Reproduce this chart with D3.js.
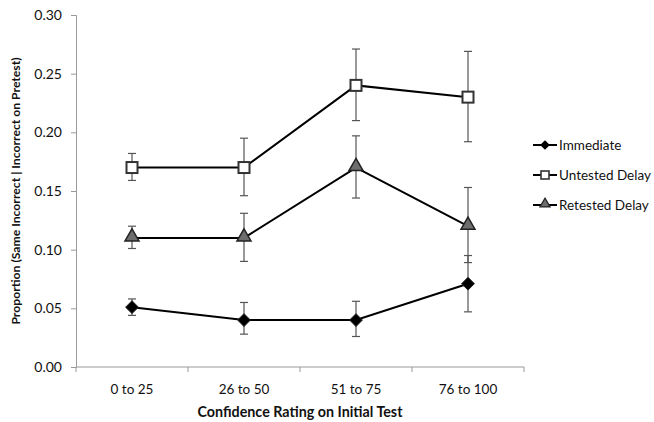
<!DOCTYPE html>
<html><head><meta charset="utf-8">
<script src="https://cdn.jsdelivr.net/npm/d3@7"></script>
<style>body{margin:0;background:#fff}svg{display:block}text{font-family:Lato,"Open Sans",sans-serif}</style>
</head><body><svg id="c" width="654" height="422"></svg>
<script>
const categories = ["0 to 25","26 to 50","51 to 75","76 to 100"];
const seriesNames = ["Immediate","Untested Delay","Retested Delay"];
const immediate = [0.051, 0.040, 0.040, 0.071];
const immediateLo = [0.044, 0.028, 0.026, 0.047];
const immediateHi = [0.058, 0.055, 0.056, 0.095];
const untested = [0.170, 0.170, 0.240, 0.230];
const untestedLo = [0.159, 0.146, 0.210, 0.192];
const untestedHi = [0.182, 0.195, 0.271, 0.269];
const retested = [0.110, 0.110, 0.170, 0.120];
const retestedLo = [0.101, 0.090, 0.144, 0.089];
const retestedHi = [0.120, 0.131, 0.197, 0.153];
const yTicks = [0,0.05,0.10,0.15,0.20,0.25,0.30];

const svg = d3.select("#c");
const x = d3.scaleBand().domain(categories).range([76,524]);
const y = d3.scaleLinear().domain([0,0.30]).range([367,15]);
const axisCol = "#9a9a9a";

// y axis
const ya = svg.append("g").attr("transform","translate(76,0)")
  .call(d3.axisLeft(y).tickValues(yTicks).tickFormat(d3.format(".2f")).tickSize(5).tickPadding(9));
ya.select(".domain").attr("stroke",axisCol);
ya.selectAll(".tick line").attr("stroke",axisCol);
ya.selectAll("text").attr("font-size",14).attr("fill","#111");
// x axis
const xa = svg.append("g").attr("transform","translate(0,367)")
  .call(d3.axisBottom(x).tickSize(0).tickPadding(17));
xa.select(".domain").attr("stroke",axisCol).attr("d","M76,0H524");
xa.selectAll("text").attr("font-size",13.5).attr("fill","#111");
const bounds = categories.map((c,i)=>x(c)).concat([x.range()[1]]);
svg.append("g").selectAll("line").data(bounds).join("line")
  .attr("x1",d=>d).attr("x2",d=>d).attr("y1",367).attr("y2",372).attr("stroke",axisCol);

svg.append("text").attr("x",300).attr("y",417).attr("text-anchor","middle")
  .attr("font-size",14.3).attr("font-weight","bold").attr("fill","#111").text("Confidence Rating on Initial Test");
svg.append("text").attr("transform","translate(20,191) rotate(-90)").attr("text-anchor","middle")
  .attr("font-size",12.2).attr("font-weight","bold").attr("fill","#111")
  .text("Proportion (Same Incorrect | Incorrect on Pretest)");

const cx = c => x(c) + x.bandwidth()/2;
const series = [
  {name:seriesNames[0], v:immediate, lo:immediateLo, hi:immediateHi, shape:"diamond"},
  {name:seriesNames[1], v:untested, lo:untestedLo, hi:untestedHi, shape:"square"},
  {name:seriesNames[2], v:retested, lo:retestedLo, hi:retestedHi, shape:"triangle"}
];
const line = d3.line().x((d,i)=>cx(categories[i])).y(d=>y(d));

function marker(g, shape, px, py){
  if(shape==="diamond"){
    g.append("path").attr("d",d3.symbol(d3.symbolDiamond2,105)()).attr("transform",`translate(${px},${py})`)
      .attr("fill","#000").attr("stroke","#222").attr("stroke-width",1);
  } else if(shape==="square"){
    g.append("rect").attr("x",px-5.5).attr("y",py-5.5).attr("width",11).attr("height",11)
      .attr("fill","#fff").attr("stroke","#333").attr("stroke-width",2);
  } else {
    g.append("path").attr("d",d3.symbol(d3.symbolTriangle,85)()).attr("transform",`translate(${px},${py-1})`)
      .attr("fill","#6e6e6e").attr("stroke","#222").attr("stroke-width",1.5);
  }
}

series.forEach(s=>{
  const g = svg.append("g");
  s.v.forEach((v,i)=>{
    const px = cx(categories[i]);
    g.append("line").attr("x1",px).attr("x2",px).attr("y1",y(s.lo[i])).attr("y2",y(s.hi[i])).attr("stroke","#555").attr("stroke-width",1.2);
    [s.lo[i],s.hi[i]].forEach(e=>g.append("line").attr("x1",px-4).attr("x2",px+4).attr("y1",y(e)).attr("y2",y(e)).attr("stroke","#555").attr("stroke-width",1.2));
  });
});
series.forEach(s=>{
  const g = svg.append("g");
  g.append("path").attr("d",line(s.v)).attr("fill","none").attr("stroke","#000").attr("stroke-width",2);
  s.v.forEach((v,i)=>marker(g,s.shape,cx(categories[i]),y(v)));
});

// legend
const legY = [145, 175, 205];
series.forEach((s,i)=>{
  const g = svg.append("g");
  g.append("line").attr("x1",533).attr("x2",557).attr("y1",legY[i]).attr("y2",legY[i]).attr("stroke","#000").attr("stroke-width",2);
  if(s.shape==="diamond"){
    g.append("path").attr("d",d3.symbol(d3.symbolDiamond2,60)()).attr("transform",`translate(545,${legY[i]})`).attr("fill","#000");
  } else if(s.shape==="square"){
    g.append("rect").attr("x",541).attr("y",legY[i]-4).attr("width",8).attr("height",8).attr("fill","#fff").attr("stroke","#333").attr("stroke-width",1.6);
  } else {
    g.append("path").attr("d",d3.symbol(d3.symbolTriangle,45)()).attr("transform",`translate(545,${legY[i]-1})`).attr("fill","#6e6e6e").attr("stroke","#222").attr("stroke-width",1.2);
  }
  g.append("text").attr("x",559).attr("y",legY[i]).attr("dy","0.35em").attr("font-size",13.5).attr("fill","#111").text(s.name);
});
</script></body></html>
